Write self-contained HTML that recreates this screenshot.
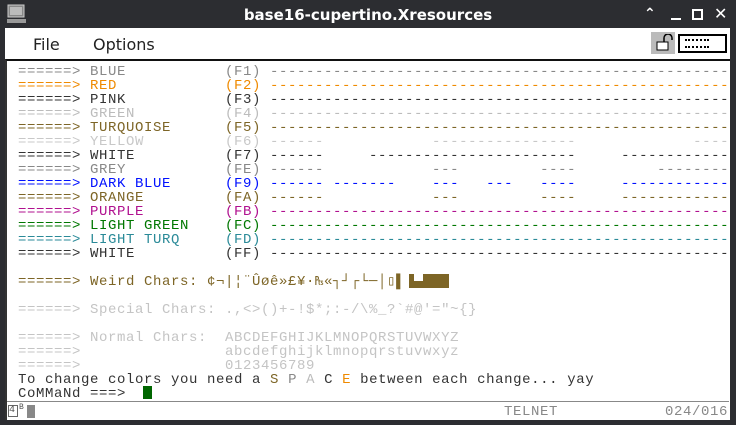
<!DOCTYPE html>
<html><head><meta charset="utf-8"><style>
*{margin:0;padding:0;box-sizing:border-box}
body{width:736px;height:425px;background:#2c2d31;position:relative;overflow:hidden;font-family:"Liberation Mono","DejaVu Sans Mono",monospace}
#title{position:absolute;left:0;top:0;width:736px;height:28px;color:#fff;font:bold 15px "DejaVu Sans","Liberation Sans",sans-serif;text-align:center;line-height:30px}
#menu{position:absolute;left:5px;top:28px;width:725px;height:31px;background:#fff;font:16px "DejaVu Sans","Liberation Sans",sans-serif;color:#222}
#menu span{position:absolute;top:7px}
#term{position:absolute;left:5px;top:59px;width:725px;height:361px;background:#fff;border-top:2px solid #111;border-left:2px solid #333}
.r{position:absolute;left:18px;margin-top:2px;font-size:14px;letter-spacing:0.6px;line-height:14px;height:14px;white-space:pre}
.g{color:#888}.o{color:#ef8a00}.k{color:#333}.lg{color:#bcbcbc}.ol{color:#7d6526}.y{color:#c8c8c8}.b{color:#0010ff}.p{color:#b0108f}.gr{color:#007700}.t{color:#2a8a98}.sp{color:#c4c4c4}
</style></head><body>
<div id="title">base16-cupertino.Xresources</div>
<svg style="position:absolute;left:7px;top:4px" width="20" height="20"><rect x="1" y="1" width="16" height="12" fill="#888" stroke="#ccc"/><rect x="3" y="3" width="12" height="8" fill="#bbb"/><rect x="0" y="15" width="19" height="4" fill="#999"/></svg>
<div style="position:absolute;left:644px;top:6px;color:#fff;font:bold 14px 'DejaVu Sans',sans-serif">&#x2303;</div>
<div style="position:absolute;left:671px;top:18px;width:10px;height:2px;background:#fff"></div>
<div style="position:absolute;left:692px;top:9px;width:11px;height:11px;border:2px solid #fff"></div>
<div style="position:absolute;left:714px;top:4px;color:#fff;font:bold 16px 'DejaVu Sans',sans-serif">✕</div>
<div id="menu"><span style="left:28px">File</span><span style="left:88px">Options</span>
<div style="position:absolute;left:646px;top:4px;width:24px;height:22px;background:#bbb"></div>
<svg style="position:absolute;left:650px;top:6px" width="20" height="18"><path d="M9 8V4a4 4 0 0 1 8 0v2" fill="none" stroke="#000" stroke-width="1.5"/><rect x="2" y="8" width="11" height="8" fill="#fff" stroke="#000"/></svg>
<div style="position:absolute;left:673px;top:6px;width:49px;height:19px;border:2px solid #000;background:#fff"></div>
<div style="position:absolute;left:680px;top:11px;width:24px;height:9px;border-top:2px dotted #000;border-bottom:2px dotted #000"></div>
</div>
<div id="term"></div>
<div class="r g" style="top:63px">======&gt; BLUE           (F1) ---------------------------------------------------</div>
<div class="r o" style="top:77px">======&gt; RED            (F2) ---------------------------------------------------</div>
<div class="r k" style="top:91px">======&gt; PINK           (F3) ---------------------------------------------------</div>
<div class="r lg" style="top:105px">======&gt; GREEN          (F4) ---------------------------------------------------</div>
<div class="r ol" style="top:119px">======&gt; TURQUOISE      (F5) ---------------------------------------------------</div>
<div class="r y" style="top:133px">======&gt; YELLOW         (F6) ------            ----------------             ----</div>
<div class="r k" style="top:147px">======&gt; WHITE          (F7) ------     -----------------------     ------------</div>
<div class="r g" style="top:161px">======&gt; GREY           (FE) ------            ---         ----         --------</div>
<div class="r b" style="top:175px">======&gt; DARK BLUE      (F9) ------ -------    ---   ---   ----     ------------</div>
<div class="r ol" style="top:189px">======&gt; ORANGE         (FA) ------            ---         ----     ------------</div>
<div class="r p" style="top:203px">======&gt; PURPLE         (FB) ---------------------------------------------------</div>
<div class="r gr" style="top:217px">======&gt; LIGHT GREEN    (FC) ---------------------------------------------------</div>
<div class="r t" style="top:231px">======&gt; LIGHT TURQ     (FD) ---------------------------------------------------</div>
<div class="r k" style="top:245px">======&gt; WHITE          (FF) ---------------------------------------------------</div>
<div class="r ol" style="top:273px">======&gt; Weird Chars: ¢¬|¦¨Ûøê»£¥·₧«┐┘┌└─│▯▌</div>
<div style="position:absolute;left:409px;top:274px;width:40px;height:14px;background:#7d6526"></div>
<div style="position:absolute;left:414px;top:274px;width:9px;height:7px;background:#fff"></div>
<div class="r sp" style="top:301px">======&gt; Special Chars: .,&lt;&gt;()+-!$*;:-/\%_?`#@'="~{}</div>
<div class="r sp" style="top:329px">======&gt; Normal Chars:  ABCDEFGHIJKLMNOPQRSTUVWXYZ</div>
<div class="r sp" style="top:343px">======&gt;                abcdefghijklmnopqrstuvwxyz</div>
<div class="r sp" style="top:357px">======&gt;                0123456789</div>
<div class="r k" style="top:371px">To change colors you need a <span class="ol">S</span> <span class="g">P</span> <span class="lg">A</span> C <span class="o">E</span> between each change... yay</div>
<div class="r k" style="top:385px">CoMMaNd ===&gt;</div>
<div style="position:absolute;left:143px;top:386px;width:9px;height:13px;background:#006600"></div>
<div style="position:absolute;left:7px;top:401px;width:722px;height:1px;background:#888"></div>
<div style="position:absolute;left:8px;top:405px;width:10px;height:12px;border:1px solid #666;font-size:10px;line-height:10px;color:#555">4</div>
<div style="position:absolute;left:19px;top:403px;font-size:8px;color:#555">B</div>
<div style="position:absolute;left:27px;top:405px;width:8px;height:13px;background:#888"></div>
<div class="r g" style="left:504px;top:403px">TELNET</div>
<div class="r g" style="left:665px;top:403px">024/016</div>
</body></html>
